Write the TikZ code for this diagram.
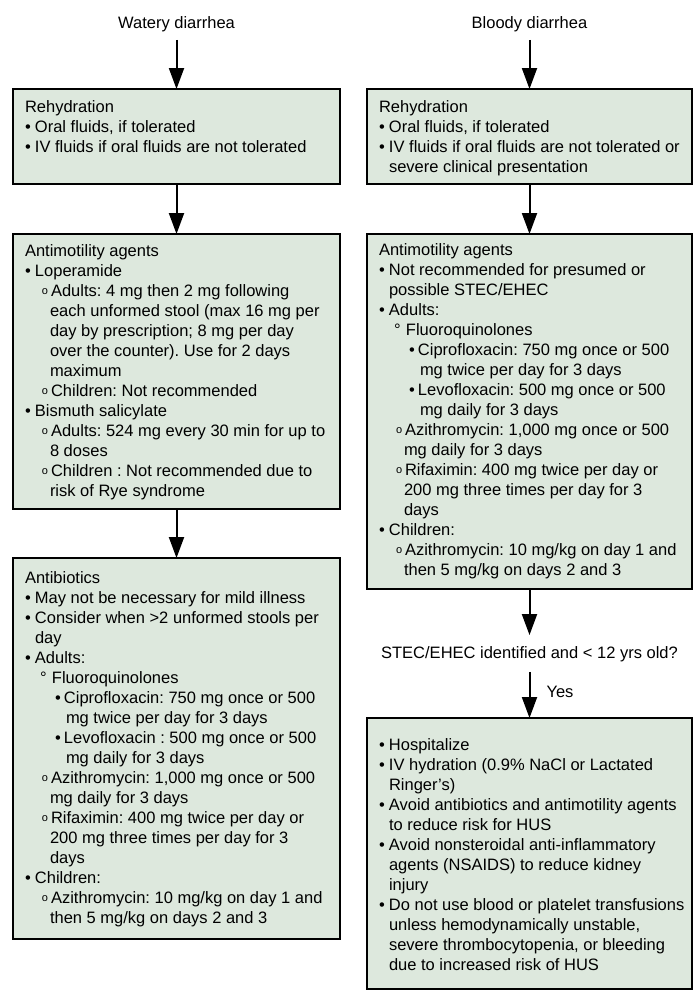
\documentclass[tikz,border=0pt]{standalone}
\usepackage{fontspec}
\setmainfont{Liberation Sans}
\usepackage{tikz}
\usetikzlibrary{arrows.meta}
\frenchspacing
\definecolor{boxfill}{RGB}{221,232,221}
\newcommand{\boxtext}[4]{\parbox[c][#2][t]{#1}{\raggedright\parindent=0pt\parskip=0pt\rule{0pt}{#3}#4}}
\newcommand{\itemhead}[1]{\mbox{#1}\par}
\newcommand{\itemone}[1]{\mbox{\makebox[10pt][l]{\textbullet}#1}\par}
\newcommand{\itemonec}[1]{\mbox{\hspace*{10pt}#1}\par}
\newcommand{\smallo}{\raisebox{1.2pt}{\fontsize{11}{11}\selectfont o}}
\newcommand{\itemtwo}[1]{\mbox{\hspace*{17pt}\makebox[9pt][l]{\smallo}#1}\par}
\newcommand{\itemtwoc}[1]{\mbox{\hspace*{25pt}#1}\par}
\newcommand{\itemdeg}[1]{\mbox{\hspace*{15pt}\makebox[12pt][l]{°}#1}\par}
\newcommand{\itemthree}[1]{\mbox{\hspace*{30pt}\makebox[9pt][l]{\textbullet}#1}\par}
\newcommand{\itemthreec}[1]{\mbox{\hspace*{41pt}#1}\par}
\tikzset{%
  carebox/.style={draw, line width=2.4pt, fill=boxfill, inner xsep=12pt,
                  inner ysep=0pt, outer sep=0pt, anchor=north west,
                  font=\fontsize{16.5}{20}\selectfont},
  toplabel/.style={inner sep=0pt, outer sep=0pt, anchor=base,
                   font=\fontsize{16.5}{20}\selectfont},
  flowarrow/.style={line width=2pt, -{Triangle[length=21pt,width=15pt]}},
}
\begin{document}
\begin{tikzpicture}[x=1pt,y=-1pt]
  \useasboundingbox (0,0) rectangle (700,991);
  % left column
  \node[toplabel] (watery) at (176.5,28) {Watery diarrhea};
  \node[carebox] (reh1) at (13,89) {\boxtext{303pt}{95pt}{23pt}{%
    \itemhead{Rehydration}
    \itemone{Oral fluids, if tolerated}
    \itemone{IV fluids if oral fluids are not tolerated}}};
  \node[carebox] (anti1) at (13,234) {\boxtext{303pt}{275pt}{22pt}{%
    \itemhead{Antimotility agents}
    \itemone{Loperamide}
    \itemtwo{Adults: 4 mg then 2 mg following}
    \itemtwoc{each unformed stool (max 16 mg per}
    \itemtwoc{day by prescription; 8 mg per day}
    \itemtwoc{over the counter). Use for 2 days}
    \itemtwoc{maximum}
    \itemtwo{Children: Not recommended}
    \itemone{Bismuth salicylate}
    \itemtwo{Adults: 524 mg every 30 min for up to}
    \itemtwoc{8 doses}
    \itemtwo{Children : Not recommended due to}
    \itemtwoc{risk of Rye syndrome}}};
  \node[carebox] (abx1) at (13,558) {\boxtext{303pt}{381pt}{25pt}{%
    \itemhead{Antibiotics}
    \itemone{May not be necessary for mild illness}
    \itemone{Consider when >2 unformed stools per}
    \itemonec{day}
    \itemone{Adults:}
    \itemdeg{Fluoroquinolones}
    \itemthree{Ciprofloxacin: 750 mg once or 500}
    \itemthreec{mg twice per day for 3 days}
    \itemthree{Levofloxacin : 500 mg once or 500}
    \itemthreec{mg daily for 3 days}
    \itemtwo{Azithromycin: 1,000 mg once or 500}
    \itemtwoc{mg daily for 3 days}
    \itemtwo{Rifaximin: 400 mg twice per day or}
    \itemtwoc{200 mg three times per day for 3}
    \itemtwoc{days}
    \itemone{Children:}
    \itemtwo{Azithromycin: 10 mg/kg on day 1 and}
    \itemtwoc{then 5 mg/kg on days 2 and 3}}};
  % right column
  \node[toplabel] (bloody) at (529.5,28) {Bloody diarrhea};
  \node[carebox] (reh2) at (367,89) {\boxtext{301pt}{95pt}{23pt}{%
    \itemhead{Rehydration}
    \itemone{Oral fluids, if tolerated}
    \itemone{IV fluids if oral fluids are not tolerated or}
    \itemonec{severe clinical presentation}}};
  \node[carebox] (anti2) at (367,234) {\boxtext{301pt}{355pt}{21pt}{%
    \itemhead{Antimotility agents}
    \itemone{Not recommended for presumed or}
    \itemonec{possible STEC/EHEC}
    \itemone{Adults:}
    \itemdeg{Fluoroquinolones}
    \itemthree{Ciprofloxacin: 750 mg once or 500}
    \itemthreec{mg twice per day for 3 days}
    \itemthree{Levofloxacin: 500 mg once or 500}
    \itemthreec{mg daily for 3 days}
    \itemtwo{Azithromycin: 1,000 mg once or 500}
    \itemtwoc{mg daily for 3 days}
    \itemtwo{Rifaximin: 400 mg twice per day or}
    \itemtwoc{200 mg three times per day for 3}
    \itemtwoc{days}
    \itemone{Children:}
    \itemtwo{Azithromycin: 10 mg/kg on day 1 and}
    \itemtwoc{then 5 mg/kg on days 2 and 3}}};
  \node[toplabel] (stec) at (529.5,658) {STEC/EHEC identified and < 12 yrs old?};
  \node[carebox] (hosp) at (367,718) {\boxtext{301pt}{271pt}{32pt}{%
    \itemone{Hospitalize}
    \itemone{IV hydration (0.9\% NaCl or Lactated}
    \itemonec{Ringer's)}
    \itemone{Avoid antibiotics and antimotility agents}
    \itemonec{to reduce risk for HUS}
    \itemone{Avoid nonsteroidal anti-inflammatory}
    \itemonec{agents (NSAIDS) to reduce kidney}
    \itemonec{injury}
    \itemone{Do not use blood or platelet transfusions}
    \itemonec{unless hemodynamically unstable,}
    \itemonec{severe thrombocytopenia, or bleeding}
    \itemonec{due to increased risk of HUS}}};
  % arrows
  \draw[flowarrow, shorten <=8.5pt] (watery.south) -- (reh1.north);
  \draw[flowarrow] (reh1.south) -- (anti1.north);
  \draw[flowarrow] (anti1.south) -- (abx1.north);
  \draw[flowarrow, shorten <=8.5pt] (bloody.south) -- (reh2.north);
  \draw[flowarrow] (reh2.south) -- (anti2.north);
  \draw[flowarrow, shorten >=11pt] (anti2.south) -- (stec.north);
  \draw[flowarrow, shorten <=10.5pt] (stec.south) --
    node[toplabel, anchor=west, xshift=17pt, yshift=-2.3pt] (yes) {Yes} (hosp.north);
\end{tikzpicture}
\end{document}
